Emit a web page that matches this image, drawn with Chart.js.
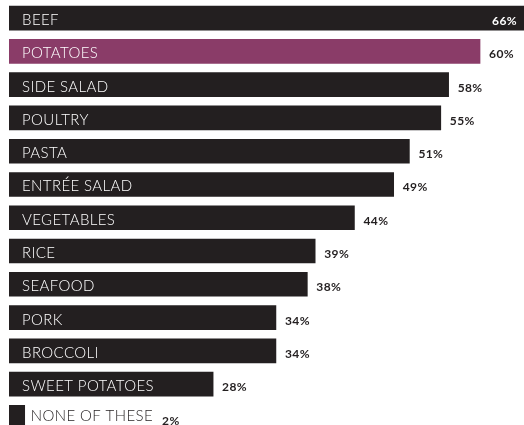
<!DOCTYPE html>
<html>
<head>
<meta charset="utf-8">
<script src="https://cdn.jsdelivr.net/npm/chart.js@4.4.1/dist/chart.umd.min.js"></script>
<style>
    html, body { margin: 0; padding: 0; background: #fff; overflow: hidden; }
    #wrap { position: relative; width: 524px; height: 434px; }
</style>
</head>
<body>
<div id="wrap"><canvas id="foodChart"></canvas></div>
<script>
const categories = ['BEEF', 'POTATOES', 'SIDE SALAD', 'POULTRY', 'PASTA', 'ENTRÉE SALAD', 'VEGETABLES',
    'RICE', 'SEAFOOD', 'PORK', 'BROCCOLI', 'SWEET POTATOES', 'NONE OF THESE'];
// bar lengths as drawn in the picture
const barValues = [66, 60, 56, 55, 51, 49, 44, 39, 38, 34, 34, 26, 2];
// percentages printed next to the bars
const valueLabels = ['66%', '60%', '58%', '55%', '51%', '49%', '44%', '39%', '38%', '34%', '34%', '28%', '2%'];
const highlight = 'POTATOES';

const DARK = '#231f20';
const PURPLE = '#8a3c68';

const barText = {
    id: 'barText',
    afterDatasetsDraw(chart) {
        const ctx = chart.ctx;
        const area = chart.chartArea;
        const bars = chart.getDatasetMeta(0).data;
        ctx.save();
        ctx.textBaseline = 'alphabetic';
        bars.forEach((bar, i) => {
            const left = bar.base;
            const right = Math.min(bar.x, area.right);
            const inside = right - left > 60;
            let end;
            ctx.font = '300 15px Lato';
            ctx.letterSpacing = '0.4px';
            if (inside) {
                ctx.fillStyle = '#fff';
                ctx.fillText(categories[i], left + 13, bar.y + 7);
                end = right;
            } else {
                ctx.fillStyle = DARK;
                ctx.fillText(categories[i], right + 6, bar.y + 4);
                end = right + 6 + ctx.measureText(categories[i]).width;
            }

            ctx.font = 'bold 12px Lato';
            ctx.letterSpacing = '0.4px';
            const w = ctx.measureText(valueLabels[i]).width;
            let x = end + 9;
            ctx.fillStyle = DARK;
            if (x + w > chart.width - 4) {
                x = area.right - w - 7;
                ctx.fillStyle = '#fff';
            }
            ctx.fillText(valueLabels[i], x, bar.y + (inside ? 7 : 8));
        });
        ctx.restore();
    }
};

const ctx = document.getElementById('foodChart');

new Chart(ctx, {
    type: 'bar',
    data: {
        labels: categories,
        datasets: [{
            data: barValues,
            backgroundColor: categories.map(c => c === highlight ? PURPLE : DARK),
            borderWidth: 0,
            barThickness: 24
        }]
    },
    options: {
        indexAxis: 'y',
        responsive: true,
        maintainAspectRatio: false,
        animation: false,
        layout: {
            padding: { left: 9, right: 0, top: 1.5, bottom: 0 }
        },
        plugins: {
            legend: { display: false },
            tooltip: { enabled: false }
        },
        scales: {
            x: { display: false, min: 0, max: 65.6 },
            y: { display: false }
        }
    },
    plugins: [barText]
});
</script>
</body>
</html>
